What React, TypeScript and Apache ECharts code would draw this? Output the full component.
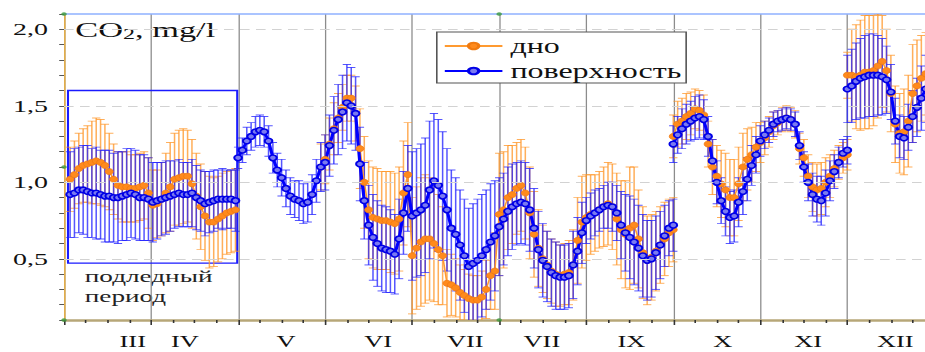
import React, { useEffect, useRef } from 'react';
import * as echarts from 'echarts';

// The plot is laid out in a narrow frame and widened horizontally by CSS.
const STRETCH = 1.6;
const FRAME_WIDTH = 584;
const FRAME_HEIGHT = 352;
const VIEW_WIDTH = 925;
const STEP = 0.05;
const SERIF = '"Liberation Serif", "Times New Roman", serif';

// Month labels under the x axis and their positions (in month units).
const monthLabels = ['III', 'IV', 'V', 'VI', 'VII', 'VII', 'IX', 'X', 'XI', 'XII'];
const monthLabelPos = [0.79, 1.39, 2.55, 3.61, 4.61, 5.49, 6.52, 7.57, 8.55, 9.55];

// Segment start positions (month units); points follow every STEP.
const surfaceStarts = [0.07, 2.0, 7.0, 9.0];
const bottomStarts = [0.07, 2.95, 7.0, 9.0];

// поверхность (surface), mg/l
const surface1 = [0.92, 0.93, 0.95, 0.95, 0.94, 0.93, 0.93, 0.92, 0.91, 0.91, 0.90, 0.90, 0.91, 0.92, 0.93, 0.92, 0.90, 0.90, 0.89, 0.87, 0.88, 0.89, 0.90, 0.91, 0.92, 0.93, 0.92, 0.92, 0.93, 0.90, 0.88, 0.86, 0.87, 0.88, 0.89, 0.89, 0.89, 0.89, 0.88];
const surfaceErr1 = [0.28, 0.29, 0.28, 0.29, 0.30, 0.29, 0.30, 0.29, 0.30, 0.30, 0.29, 0.30, 0.29, 0.30, 0.29, 0.29, 0.28, 0.28, 0.27, 0.26, 0.25, 0.24, 0.24, 0.23, 0.22, 0.22, 0.21, 0.21, 0.22, 0.21, 0.20, 0.21, 0.20, 0.20, 0.19, 0.20, 0.19, 0.19, 0.20];
const surface2 = [
  1.16, 1.21, 1.27, 1.30, 1.33, 1.34, 1.33, 1.27, 1.16, 1.08,
  1.03, 0.96, 0.91, 0.89, 0.88, 0.86, 0.87, 0.92, 1.01, 1.10,
  1.13, 1.24, 1.34, 1.41, 1.46, 1.52, 1.50, 1.45, 1.12, 0.88,
  0.72, 0.64, 0.60, 0.57, 0.56, 0.55, 0.53, 0.63, 0.80, 0.96,
  0.78, 0.80, 0.82, 0.85, 0.95, 1.01, 0.98, 0.91, 0.82, 0.70,
  0.66, 0.59, 0.52, 0.45, 0.47, 0.49, 0.52, 0.56, 0.61, 0.65,
  0.71, 0.76, 0.81, 0.84, 0.86, 0.87, 0.86, 0.82, 0.70, 0.56,
  0.49, 0.45, 0.41, 0.39, 0.38, 0.38, 0.39, 0.46, 0.55, 0.67,
  0.75, 0.78, 0.80, 0.82, 0.84, 0.85, 0.84, 0.80, 0.72, 0.67,
  0.64, 0.61, 0.57, 0.52, 0.49, 0.50, 0.54, 0.59, 0.65, 0.70,
  0.72,
];
const surfaceErr2 = [
  0.07, 0.08, 0.09, 0.09, 0.10, 0.10, 0.10, 0.10, 0.10, 0.11,
  0.12, 0.12, 0.12, 0.12, 0.13, 0.13, 0.13, 0.13, 0.14, 0.16,
  0.18, 0.20, 0.22, 0.23, 0.24, 0.25, 0.25, 0.24, 0.24, 0.25,
  0.26, 0.28, 0.28, 0.28, 0.28, 0.27, 0.26, 0.26, 0.27, 0.28,
  0.42, 0.42, 0.43, 0.44, 0.45, 0.44, 0.43, 0.42, 0.40, 0.38,
  0.37, 0.36, 0.37, 0.38, 0.39, 0.40, 0.40, 0.39, 0.38, 0.36,
  0.32, 0.30, 0.29, 0.28, 0.27, 0.27, 0.27, 0.27, 0.26, 0.25,
  0.24, 0.23, 0.22, 0.22, 0.21, 0.21, 0.21, 0.22, 0.22, 0.20,
  0.15, 0.15, 0.15, 0.14, 0.14, 0.15, 0.16, 0.18, 0.22, 0.25,
  0.27, 0.28, 0.28, 0.27, 0.26, 0.25, 0.24, 0.22, 0.20, 0.18,
  0.17,
];
const surface3 = [1.25, 1.31, 1.35, 1.38, 1.40, 1.42, 1.43, 1.41, 1.30, 1.14, 1.00, 0.88, 0.81, 0.77, 0.78, 0.87, 0.94, 1.02, 1.11, 1.18, 1.27, 1.31, 1.34, 1.38, 1.40, 1.41, 1.42, 1.41, 1.38, 1.24, 1.10, 1.00, 0.92, 0.89, 0.88, 0.93, 1.01, 1.07, 1.13, 1.19, 1.21];
const surfaceErr3 = [0.12, 0.12, 0.13, 0.13, 0.13, 0.14, 0.14, 0.13, 0.13, 0.14, 0.14, 0.15, 0.16, 0.17, 0.17, 0.16, 0.15, 0.14, 0.13, 0.12, 0.10, 0.09, 0.08, 0.08, 0.07, 0.07, 0.07, 0.07, 0.08, 0.09, 0.10, 0.12, 0.14, 0.15, 0.16, 0.15, 0.13, 0.11, 0.10, 0.09, 0.09];
const surface4 = [1.61, 1.63, 1.66, 1.68, 1.69, 1.70, 1.70, 1.70, 1.69, 1.67, 1.59, 1.40, 1.30, 1.29, 1.36, 1.43, 1.49, 1.55, 1.61];
const surfaceErr4 = [0.22, 0.24, 0.25, 0.26, 0.27, 0.27, 0.27, 0.26, 0.25, 0.22, 0.18, 0.15, 0.14, 0.14, 0.15, 0.17, 0.19, 0.21, 0.22];

// дно (bottom), mg/l
const bottom1 = [1.02, 1.05, 1.09, 1.11, 1.12, 1.13, 1.14, 1.13, 1.11, 1.07, 1.02, 0.98, 0.97, 0.97, 0.96, 0.96, 0.97, 0.98, 0.93, 0.85, 0.86, 0.89, 0.93, 0.97, 1.02, 1.03, 1.04, 1.04, 0.99, 0.91, 0.84, 0.78, 0.74, 0.74, 0.76, 0.78, 0.80, 0.81, 0.82];
const bottomErr1 = [0.21, 0.22, 0.23, 0.24, 0.25, 0.27, 0.28, 0.28, 0.27, 0.25, 0.23, 0.22, 0.23, 0.23, 0.22, 0.22, 0.22, 0.22, 0.23, 0.23, 0.22, 0.24, 0.26, 0.29, 0.30, 0.31, 0.31, 0.30, 0.29, 0.28, 0.28, 0.29, 0.30, 0.29, 0.28, 0.28, 0.27, 0.27, 0.27];
const bottom2 = [
  1.10,
  1.15, 1.25, 1.35, 1.42, 1.49, 1.55, 1.55, 1.45, 1.22, 1.00,
  0.82, 0.77, 0.76, 0.75, 0.75, 0.74, 0.73, 0.76, 0.93, 1.05,
  0.52, 0.57, 0.61, 0.63, 0.63, 0.60, 0.56, 0.52, 0.34, 0.33,
  0.31, 0.28, 0.26, 0.24, 0.23, 0.23, 0.25, 0.30, 0.39, 0.42,
  0.79, 0.82, 0.90, 0.92, 0.96, 0.98, 0.93, 0.80, 0.66, 0.57,
  0.50, 0.46, 0.42, 0.40, 0.39, 0.40, 0.41, 0.46, 0.62, 0.74,
  0.77, 0.79, 0.80, 0.82, 0.84, 0.86, 0.84, 0.76, 0.69, 0.66,
  0.70, 0.72, 0.63, 0.54, 0.49, 0.51, 0.55, 0.59, 0.63, 0.67,
  0.69,
];
const bottomErr2 = [
  0.15,
  0.16, 0.17, 0.17, 0.16, 0.15, 0.15, 0.15, 0.18, 0.26, 0.30,
  0.32, 0.33, 0.33, 0.32, 0.32, 0.33, 0.33, 0.34, 0.34, 0.34,
  0.38, 0.40, 0.42, 0.42, 0.40, 0.38, 0.36, 0.32, 0.22, 0.20,
  0.19, 0.18, 0.17, 0.16, 0.16, 0.16, 0.17, 0.19, 0.22, 0.25,
  0.40, 0.38, 0.34, 0.32, 0.30, 0.30, 0.30, 0.30, 0.28, 0.25,
  0.22, 0.22, 0.21, 0.21, 0.20, 0.20, 0.21, 0.23, 0.28, 0.30,
  0.28, 0.26, 0.25, 0.25, 0.26, 0.27, 0.28, 0.30, 0.32, 0.35,
  0.40, 0.38, 0.32, 0.30, 0.29, 0.28, 0.26, 0.25, 0.24, 0.22,
  0.21,
];
const bottom3 = [1.30, 1.38, 1.40, 1.43, 1.45, 1.48, 1.47, 1.44, 1.25, 1.10, 1.04, 0.99, 0.95, 0.90, 0.90, 0.99, 1.10, 1.15, 1.18, 1.23, 1.26, 1.29, 1.33, 1.37, 1.39, 1.41, 1.42, 1.41, 1.38, 1.22, 1.16, 1.04, 0.97, 0.95, 0.96, 1.00, 1.04, 1.09, 1.13, 1.16, 1.18];
const bottomErr3 = [0.14, 0.15, 0.15, 0.15, 0.14, 0.13, 0.13, 0.13, 0.15, 0.18, 0.20, 0.22, 0.24, 0.25, 0.25, 0.24, 0.22, 0.20, 0.18, 0.16, 0.13, 0.11, 0.10, 0.09, 0.08, 0.08, 0.08, 0.08, 0.09, 0.10, 0.12, 0.14, 0.16, 0.17, 0.17, 0.16, 0.14, 0.12, 0.11, 0.10, 0.10];
const bottom4 = [1.70, 1.70, 1.69, 1.70, 1.72, 1.72, 1.73, 1.76, 1.79, 1.73, 1.58, 1.38, 1.32, 1.33, 1.40, 1.58, 1.63, 1.68, 1.71];
const bottomErr4 = [0.15, 0.30, 0.34, 0.36, 0.37, 0.37, 0.36, 0.34, 0.30, 0.27, 0.25, 0.25, 0.26, 0.28, 0.30, 0.32, 0.30, 0.28, 0.27];

// Horizontal reference lines and the under-ice period frame.
const gridLevels = [0.5, 1.0, 1.5, 2.0];
const iceFrame = { x0: 0.046, x1: 1.99, yTop: 1.6, yBottom: 0.472 };
const cornerDots = [[0, 2.1], [0, 1.1], [0, 0.1], [5, 2.1], [5, 0.1]];

function buildTrack(starts: number[], segs: number[][], errs: number[][]) {
  const line: (number | string)[][] = [];
  const bars: number[][] = [];
  segs.forEach((seg, s) => {
    seg.forEach((v, i) => {
      const x = +(starts[s] + i * STEP).toFixed(4);
      const e = errs[s][i];
      line.push([x, v]);
      bars.push([x, +(v - e).toFixed(3), +(v + e).toFixed(3)]);
    });
    if (s < segs.length - 1) line.push([starts[s + 1], '-']);
  });
  return { line, bars };
}

function errorBars(color: string) {
  return (params: any, api: any) => {
    const x = api.value(0);
    const lo = api.coord([x, api.value(1)]);
    const hi = api.coord([x, api.value(2)]);
    const cap = 2.6;
    const style = { stroke: color, lineWidth: 0.95 };
    return {
      type: 'group',
      children: [
        { type: 'line', shape: { x1: lo[0], y1: lo[1], x2: hi[0], y2: hi[1] }, style },
        { type: 'line', shape: { x1: lo[0] - cap, y1: lo[1], x2: lo[0] + cap, y2: lo[1] }, style },
        { type: 'line', shape: { x1: hi[0] - cap, y1: hi[1], x2: hi[0] + cap, y2: hi[1] }, style },
      ],
    };
  };
}

export default function App() {
  const ref = useRef<HTMLDivElement>(null);

  useEffect(() => {
    if (!ref.current) return;
    const chart = echarts.init(ref.current, undefined, { renderer: 'svg' });

    const surface = buildTrack(
      surfaceStarts,
      [surface1, surface2, surface3, surface4],
      [surfaceErr1, surfaceErr2, surfaceErr3, surfaceErr4]
    );
    const bottom = buildTrack(
      bottomStarts,
      [bottom1, bottom2, bottom3, bottom4],
      [bottomErr1, bottomErr2, bottomErr3, bottomErr4]
    );

    const nearestMonth = (v: number) => {
      let best = 0;
      monthLabelPos.forEach((p, i) => {
        if (Math.abs(p - v) < Math.abs(monthLabelPos[best] - v)) best = i;
      });
      return monthLabels[best];
    };

    chart.setOption({
      animation: false,
      backgroundColor: '#ffffff',
      grid: { left: 40, right: 0, top: 14, bottom: 32, containLabel: false },
      legend: {
        data: ['дно', 'поверхность'],
        orient: 'vertical',
        left: 273,
        top: 32,
        backgroundColor: '#ffffff',
        borderColor: '#555555',
        borderWidth: 1,
        padding: [3, 3, 1, 4],
        itemWidth: 36,
        itemHeight: 8,
        itemGap: 3,
        selectedMode: false,
        textStyle: { fontFamily: SERIF, fontSize: 20, color: '#111111', lineHeight: 22 },
      },
      xAxis: [
        {
          type: 'value',
          min: 0,
          max: 10,
          interval: 1,
          position: 'bottom',
          axisLine: { show: true, onZero: false, lineStyle: { color: '#b7a778', width: 2.5 } },
          axisTick: { show: true, length: 5, lineStyle: { color: '#333333', width: 1 } },
          minorTick: { show: true, splitNumber: 4, length: 3, lineStyle: { color: '#333333', width: 1 } },
          axisLabel: { show: false },
          splitLine: { show: true, lineStyle: { color: '#8c8c8c', width: 0.8 } },
          minorSplitLine: { show: false },
        },
        {
          type: 'value',
          min: 0,
          max: 10,
          position: 'bottom',
          axisLine: { show: false },
          axisTick: { show: false },
          splitLine: { show: false },
          axisLabel: {
            customValues: monthLabelPos,
            formatter: (v: number) => nearestMonth(v),
            fontFamily: SERIF,
            fontSize: 16.5,
            color: '#111111',
            margin: 13,
          },
        },
        {
          type: 'value',
          min: 0,
          max: 10,
          position: 'top',
          axisLine: { show: true, onZero: false, lineStyle: { color: '#8fb1ff', width: 1.5 } },
          axisTick: { show: false },
          axisLabel: { show: false },
          splitLine: { show: false },
        },
      ],
      yAxis: {
        type: 'value',
        min: 0.1,
        max: 2.1,
        interval: 0.1,
        axisLine: { show: true, onZero: false, lineStyle: { color: '#e2ad4a', width: 1 } },
        axisTick: { show: true, length: 3, lineStyle: { color: '#555555' } },
        axisLabel: {
          formatter: (v: number) => {
            const r = Math.round(v * 10);
            return r % 5 === 0 ? (r / 10).toFixed(1).replace('.', ',') : '';
          },
          fontFamily: SERIF,
          fontSize: 17.5,
          color: '#111111',
          margin: 10,
        },
        splitLine: { show: false },
      },
      series: [
        {
          name: 'дно ±',
          type: 'custom',
          xAxisIndex: 0,
          yAxisIndex: 0,
          renderItem: errorBars('rgba(255,148,36,0.75)'),
          encode: { x: 0, y: [1, 2] },
          data: bottom.bars,
          clip: true,
          silent: true,
          markLine: {
            silent: true,
            symbol: ['none', 'none'],
            label: { show: false },
            lineStyle: { color: '#d2d2d2', type: [6, 4], width: 1 },
            data: gridLevels.map((y) => ({ yAxis: y })),
          },
          markArea: {
            silent: true,
            itemStyle: { color: 'rgba(0,0,0,0)', borderColor: '#1a1aff', borderWidth: 1.3 },
            data: [[{ coord: [iceFrame.x0, iceFrame.yTop] }, { coord: [iceFrame.x1, iceFrame.yBottom] }]],
          },
        },
        {
          name: 'дно',
          type: 'line',
          xAxisIndex: 0,
          yAxisIndex: 0,
          data: bottom.line,
          symbol: 'circle',
          symbolSize: [5, 6],
          showSymbol: true,
          itemStyle: { color: '#ff8a1c', borderColor: '#f07a10', borderWidth: 0.6 },
          lineStyle: { color: '#ff9a30', width: 1 },
          clip: true,
          silent: true,
        },
        {
          name: 'поверхность ±',
          type: 'custom',
          xAxisIndex: 0,
          yAxisIndex: 0,
          renderItem: errorBars('rgba(30,30,255,0.75)'),
          encode: { x: 0, y: [1, 2] },
          data: surface.bars,
          clip: true,
          silent: true,
        },
        {
          name: 'поверхность',
          type: 'line',
          xAxisIndex: 0,
          yAxisIndex: 0,
          data: surface.line,
          symbol: 'circle',
          symbolSize: [4.8, 5.6],
          showSymbol: true,
          itemStyle: { color: '#7a7af0', borderColor: '#0000e6', borderWidth: 1.4 },
          lineStyle: { color: '#0000ff', width: 2 },
          clip: true,
          silent: true,
        },
        {
          name: 'углы',
          type: 'scatter',
          xAxisIndex: 0,
          yAxisIndex: 0,
          data: cornerDots,
          symbolSize: 3.5,
          itemStyle: { color: '#3c9a3c' },
          clip: false,
          silent: true,
          z: 5,
        },
      ],
      graphic: [
        {
          type: 'text',
          left: 47,
          top: 19,
          style: {
            text: '{a|CO}{b|2}{a|, mg/l}',
            rich: {
              a: { fontFamily: SERIF, fontSize: 21.5, lineHeight: 28, verticalAlign: 'bottom', fill: '#111111' },
              b: { fontFamily: SERIF, fontSize: 15, lineHeight: 13, verticalAlign: 'bottom', fill: '#111111' },
            },
          },
        },
        {
          type: 'text',
          left: 53,
          top: 266,
          style: {
            text: 'подледный\nпериод',
            fontFamily: SERIF,
            fontSize: 17,
            lineHeight: 20,
            fill: '#222222',
          },
        },
      ],
    });

    return () => chart.dispose();
  }, []);

  return (
    <div
      style={{
        position: 'fixed',
        left: 0,
        top: 0,
        width: VIEW_WIDTH,
        height: FRAME_HEIGHT,
        overflow: 'hidden',
        background: '#ffffff',
      }}
    >
      <div
        ref={ref}
        style={{
          width: FRAME_WIDTH,
          height: FRAME_HEIGHT,
          transform: `scaleX(${STRETCH})`,
          transformOrigin: '0 0',
        }}
      />
    </div>
  );
}
